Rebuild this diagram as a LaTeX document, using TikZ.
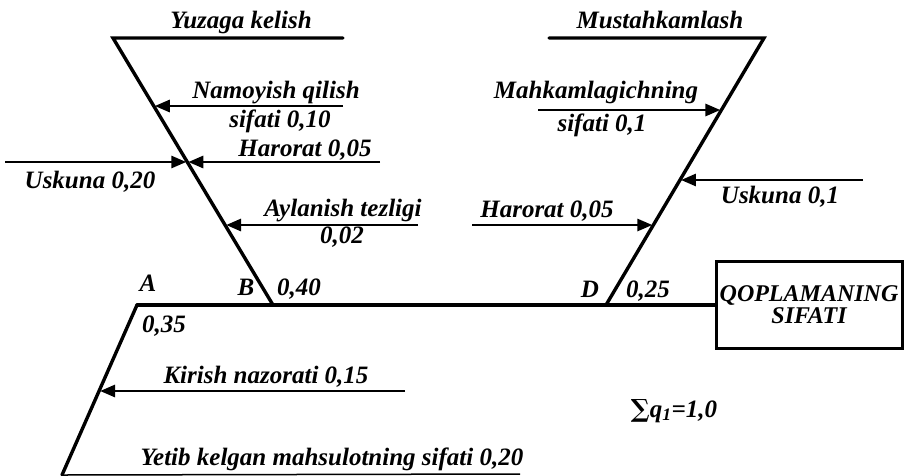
\documentclass[tikz,border=0pt]{standalone}
\usepackage{fontspec}
\setmainfont{Liberation Serif}
\newfontfamily\symfont{DejaVu Serif}
\usetikzlibrary{arrows.meta,calc}
\begin{document}
\begin{tikzpicture}[x=1pt,y=-1pt,
  bone/.style={line width=3.4pt,line cap=round},
  arr/.style={line width=2.8pt,-{Triangle[length=15pt,width=12pt]},shorten >=1pt},
  lbl/.style={font=\fontsize{25}{27}\selectfont\bfseries\itshape,inner sep=0pt,anchor=base},
  boxst/.style={draw,line width=3pt,minimum width=186pt,minimum height=87pt,inner sep=0pt,outer sep=0pt,align=center,
    font=\fontsize{24}{22}\selectfont\bfseries\itshape}]
\useasboundingbox (0,0) rectangle (904,475);

% main points
\coordinate (A) at (137,305);
\coordinate (B) at (273,305);
\coordinate (D) at (606,305);
\coordinate (L1) at (113,38);
\coordinate (L2) at (343,38);
\coordinate (R1) at (764,38);
\coordinate (R2) at (549,38);
\coordinate (Z) at (62,475);
\coordinate (Z2) at (520,474);

\node[boxst] (box) at (809,305) {QOPLAMANING\\SIFATI};

% skeleton
\draw[bone] (A) -- (box.west);
\draw[bone] (A) -- (Z);
\draw[line width=1.5pt] (Z) -- (Z2);
\draw[bone] (L2) -- (L1) -- (B);
\draw[bone] (R2) -- (R1) -- (D);

% tips on the bones
\coordinate (tN) at ($(L1)!0.2547!(B)$);
\coordinate (tH) at ($(L1)!0.4644!(B)$);
\coordinate (tA) at ($(L1)!0.7004!(B)$);
\coordinate (tM) at ($(R1)!0.2697!(D)$);
\coordinate (tU) at ($(R1)!0.5318!(D)$);
\coordinate (tR) at ($(R1)!0.7004!(D)$);
\coordinate (tK) at ($(A)!0.5059!(Z)$);

% arrow starts
\coordinate (sN) at (343,106);
\coordinate (sH) at (380,162);
\coordinate (sU) at (5,162);
\coordinate (sA) at (418,225);
\coordinate (sM) at (538,110);
\coordinate (sUR) at (863,180);
\coordinate (sR) at (472,225);
\coordinate (sK) at (405,391);

\draw[arr] (sN) -- (sN -| tN);
\draw[arr] (sH) -- (sH -| tH);
\draw[arr] (sU) -- (sU -| tH);
\draw[arr] (sA) -- (sA -| tA);
\draw[arr] (sM) -- (sM -| tM);
\draw[arr] (sUR) -- (sUR -| tU);
\draw[arr] (sR) -- (sR -| tR);
\draw[arr] (sK) -- (sK -| tK);

% labels
\node[lbl] (l1) at (241,28) {Yuzaga kelish};
\node[lbl] (l2) at (276,98) {Namoyish qilish};
\node[lbl] (l3) at (280,127) {sifati 0,10};
\node[lbl] (l4) at (305,156) {Harorat 0,05};
\node[lbl] (l5) at (90,188) {Uskuna 0,20};
\node[lbl] (l6) at (343,216) {Aylanish tezligi};
\node[lbl] (l7) at (342,243) {0,02};
\node[lbl] (lA) at (148,291) {A};
\node[lbl] (lB) at (246,295) {B};
\node[lbl] (l8) at (299,295) {0,40};
\node[lbl] (l9) at (164,332) {0,35};
\node[lbl] (lD) at (590,297) {D};
\node[lbl] (l10) at (648,297) {0,25};
\node[lbl] (l11) at (266,383) {Kirish nazorati 0,15};
\node[lbl] (l12) at (332,465) {Yetib kelgan mahsulotning sifati 0,20};
\node[lbl] (l13) at (660,28) {Mustahkamlash};
\node[lbl] (l14) at (596,98) {Mahkamlagichning};
\node[lbl] (l15) at (602,131) {sifati 0,1};
\node[lbl] (l16) at (780,203) {Uskuna 0,1};
\node[lbl] (l17) at (547,217) {Harorat 0,05};
\node[lbl] (l18) at (674,417) {{\symfont\upshape ∑}q\textsubscript{1}=1,0};
\end{tikzpicture}
\end{document}
